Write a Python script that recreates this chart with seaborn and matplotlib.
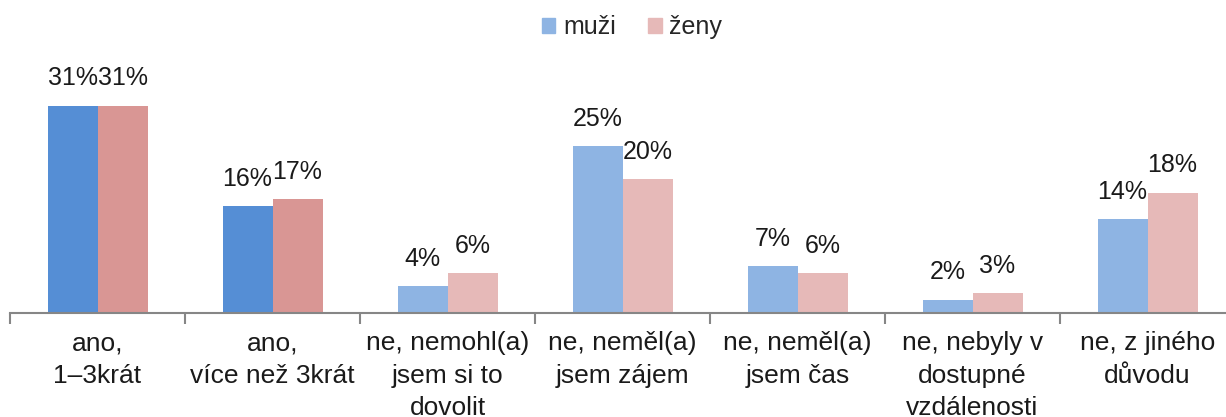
import pandas as pd
import matplotlib.pyplot as plt
import seaborn as sns

categories = [
    "ano,\n1–3krát",
    "ano,\nvíce než 3krát",
    "ne, nemohl(a)\njsem si to\ndovolit",
    "ne, neměl(a)\njsem zájem",
    "ne, neměl(a)\njsem čas",
    "ne, nebyly v\ndostupné\nvzdálenosti",
    "ne, z jiného\ndůvodu",
]
muzi = [31, 16, 4, 25, 7, 2, 14]
zeny = [31, 17, 6, 20, 6, 3, 18]
series = ["muži", "ženy"]

light = {"muži": "#8eb4e3", "ženy": "#e6b9b8"}
dark = {"muži": "#558ed5", "ženy": "#d99694"}

df = pd.DataFrame({
    "kategorie": categories * 2,
    "podil": muzi + zeny,
    "pohlavi": [series[0]] * len(categories) + [series[1]] * len(categories),
})

sns.set_style("white")
plt.rcParams["font.family"] = ["Liberation Sans", "DejaVu Sans"]

fig = plt.figure(figsize=(12.26, 4.17), dpi=100)
ax = fig.add_axes([10 / 1226, 104 / 417, 1225 / 1226, 234 / 417])

sns.barplot(data=df, x="kategorie", y="podil", hue="pohlavi",
            palette=light, saturation=1, width=4 / 7, gap=0, ax=ax, legend=False)

# first two categories are drawn in darker shades
for cont, name in zip(ax.containers, series):
    for i, bar in enumerate(cont.patches):
        bar.set_edgecolor("none")
        if i < 2:
            bar.set_facecolor(dark[name])
    ax.bar_label(cont, labels=[f"{int(round(v))}%" for v in cont.datavalues],
                 padding=11, fontsize=18, color="#1a1a1a")

ax.set_xlim(-0.5, len(categories) - 0.5)
ax.set_ylim(0, 35)
ax.set_xlabel("")
ax.set_ylabel("")
ax.set_yticks([])

ax.set_xticks(range(len(categories)))
ax.set_xticklabels(categories, fontsize=19, color="#1a1a1a", linespacing=1.45)
ax.set_xticks([i - 0.5 for i in range(len(categories) + 1)], minor=True)
ax.tick_params(axis="x", which="major", bottom=False, length=0, pad=13)
ax.tick_params(axis="x", which="minor", bottom=True, length=8, width=1.5,
               color="#868686", direction="out")

for s in ["top", "right", "left"]:
    ax.spines[s].set_visible(False)
ax.spines["bottom"].set_color("#868686")
ax.spines["bottom"].set_linewidth(1.5)

handles = [plt.Rectangle((0, 0), 1, 1, color=light[s]) for s in series]
fig.legend(handles, series, loc="center", bbox_to_anchor=(632 / 1226, 1 - 27 / 417),
           ncol=2, frameon=False, fontsize=18, handlelength=0.55, handleheight=0.55,
           handletextpad=0.3, columnspacing=1.3)

fig.savefig("out.png", dpi=100)
